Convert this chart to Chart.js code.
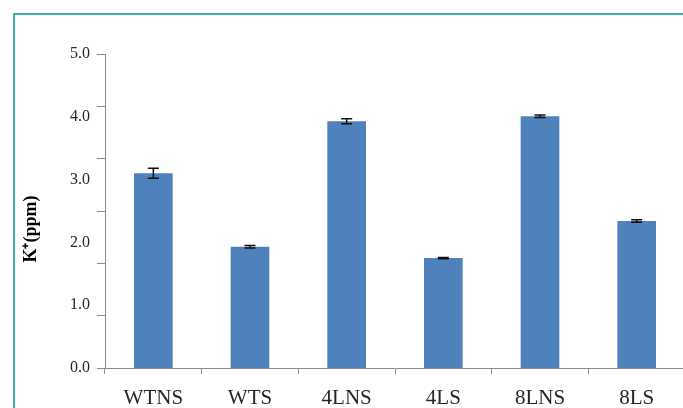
<!DOCTYPE html>
<html>
<head>
<meta charset="utf-8">
<script src="https://cdn.jsdelivr.net/npm/chart.js@4/dist/chart.umd.min.js"></script>
<style>
  html, body { margin: 0; padding: 0; background: #ffffff; overflow: hidden; width: 683px; height: 408px; }
  #frame { position: absolute; left: 13px; top: 13px; width: 700px; height: 420px;
           border-top: 2px solid #3bb4a4; border-left: 2px solid #3bb4a4; }
  #myChart { position: absolute; left: 0; top: 0; }
</style>
</head>
<body>
<div id="frame"></div>
<canvas id="myChart" width="700" height="430"></canvas>
<script>
	// Daten
	var categories = ['WTNS', 'WTS', '4LNS', '4LS', '8LNS', '8LS'];
	var values = [3.10, 1.93, 3.93, 1.75, 4.01, 2.34];
	var errors = [0.08, 0.02, 0.04, 0.01, 0.02, 0.02];
	var yLabelTicks = [0, 1, 2, 3, 4, 5];
	var yMarkMax = 6;

	var color_bar = '#4f81bd';
	var color_axis = '#8c8c8c';
	var color_text = '#262626';

	// Fehlerbalken zeichnen
	var errorBars = {
		id: 'errorBars',
		afterDatasetsDraw: function(chart) {
			var ctx = chart.ctx;
			var meta = chart.getDatasetMeta(0);
			var scale = chart.scales.yLab;
			ctx.save();
			ctx.strokeStyle = '#111111';
			ctx.lineWidth = 1.5;
			for (var i = 0; i < meta.data.length; i++) {
				var x = meta.data[i].x;
				var top = scale.getPixelForValue(values[i] + errors[i]);
				var bottom = scale.getPixelForValue(values[i] - errors[i]);
				ctx.beginPath();
				ctx.moveTo(x, top); ctx.lineTo(x, bottom);
				ctx.moveTo(x - 5.5, top); ctx.lineTo(x + 5.5, top);
				ctx.moveTo(x - 5.5, bottom); ctx.lineTo(x + 5.5, bottom);
				ctx.stroke();
			}
			ctx.restore();
		}
	};

	var ctx = document.getElementById('myChart').getContext('2d');
	var chart = new Chart(ctx, {
		type: 'bar',
		data: {
			labels: categories,
			datasets: [{
				data: values,
				yAxisID: 'yLab',
				backgroundColor: color_bar,
				borderWidth: 0,
				barPercentage: 0.4,
				categoryPercentage: 1.0
			}]
		},
		options: {
			responsive: false,
			animation: false,
			devicePixelRatio: 1,
			layout: { padding: { left: 0, top: 54, right: 15, bottom: 0 } },
			plugins: { legend: { display: false }, tooltip: { enabled: false } },
			scales: {
				x: {
					grid: { offset: true, drawOnChartArea: false, drawTicks: true, tickLength: 6, color: color_axis },
					border: { display: true, color: color_axis, width: 1 },
					ticks: { color: color_text, padding: 12, font: { family: 'Liberation Serif', size: 21 } },
					afterFit: function(scale) { scale.height = 62; }
				},
				y: {
					position: 'left',
					weight: 0,
					min: 0,
					max: yMarkMax,
					ticks: { display: false, stepSize: 1 },
					grid: { drawOnChartArea: false, drawTicks: true, tickLength: 8, color: color_axis },
					border: { display: true, color: color_axis, width: 1 },
					afterFit: function(scale) { scale.width = 8; }
				},
				yLab: {
					position: 'left',
					weight: 1,
					min: 0,
					max: 5,
					afterBuildTicks: function(scale) {
						scale.ticks = yLabelTicks.map(function(v) { return { value: v }; });
					},
					ticks: {
						color: color_text,
						padding: 7,
						font: { family: 'Liberation Serif', size: 16 },
						callback: function(value) { return value.toFixed(1); }
					},
					grid: { display: false, drawTicks: false, tickLength: 0 },
					border: { display: false },
					title: {
						display: true,
						text: 'K\u207A(ppm)        ',
						color: '#000000',
						padding: { top: 21, bottom: 0 },
						font: { family: 'Liberation Serif', size: 18, weight: 'bold' }
					},
					afterFit: function(scale) { scale.width = 97; }
				}
			}
		},
		plugins: [errorBars]
	});
</script>
</body>
</html>
